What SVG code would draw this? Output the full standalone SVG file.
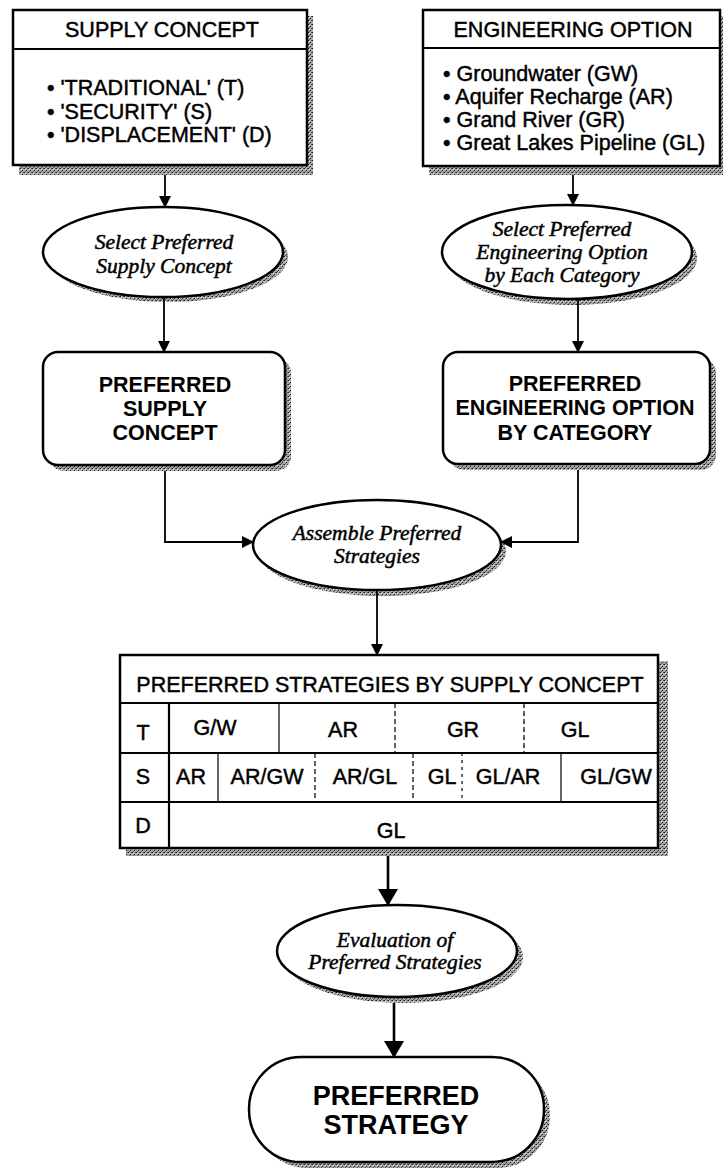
<svg xmlns="http://www.w3.org/2000/svg" width="723" height="1172" viewBox="0 0 723 1172">
<defs>
<pattern id="stip" width="4" height="4" patternUnits="userSpaceOnUse">
<rect width="4" height="4" fill="#a8a8a8"/>
<rect x="0" y="0" width="1" height="1" fill="#1a1a1a"/>
<rect x="2" y="2" width="1" height="1" fill="#1a1a1a"/>
<rect x="3" y="0" width="1" height="1" fill="#555"/>
<rect x="1" y="3" width="1" height="1" fill="#555"/>
<rect x="1" y="1" width="1" height="1" fill="#e0e0e0"/>
</pattern>
<marker id="ah" markerUnits="userSpaceOnUse" markerWidth="12" markerHeight="13" refX="11" refY="6" orient="auto">
<path d="M0,0 L12,6 L0,12 Z" fill="#000"/>
</marker>
<marker id="ahL" markerUnits="userSpaceOnUse" markerWidth="17" markerHeight="21" refX="16" refY="10" orient="auto">
<path d="M0,0 L17,10 L0,20 Z" fill="#000"/>
</marker>
</defs>
<style>
.box{fill:#fff;stroke:#000;stroke-width:2.5}
.shadow{fill:url(#stip);stroke:none}
.sans{font-family:"Liberation Sans",Arial,sans-serif;font-size:21.5px;fill:#000;stroke:#000;stroke-width:0.45}
.bold{font-family:"Liberation Sans",Arial,sans-serif;font-size:21.5px;font-weight:bold;fill:#000}
.ital{font-family:"Liberation Serif","Times New Roman",serif;font-style:italic;font-size:21.5px;fill:#000;stroke:#000;stroke-width:0.5}
.conn{fill:none;stroke:#000;stroke-width:1.8}
.connL{fill:none;stroke:#000;stroke-width:2.6}
.div{stroke:#000;stroke-width:1.8}
.dash{stroke:#000;stroke-width:1.2;stroke-dasharray:5 3}
.mid{text-anchor:middle}
</style>
<rect width="723" height="1172" fill="#fff"/>

<g id="supply-concept">
<rect class="shadow" x="19" y="16" width="294" height="159"/>
<rect class="box" x="13" y="10" width="294" height="155"/>
<line class="div" x1="13" y1="49" x2="307" y2="49"/>
<text class="sans mid" x="162" y="37">SUPPLY CONCEPT</text>
<text class="sans" x="47" y="95">• 'TRADITIONAL' (T)</text>
<text class="sans" x="47" y="118.5">• 'SECURITY' (S)</text>
<text class="sans" x="47" y="142">• 'DISPLACEMENT' (D)</text>
</g>

<g id="engineering-option">
<rect class="shadow" x="429" y="16" width="294" height="159"/>
<rect class="box" x="423" y="10" width="297" height="156"/>
<line class="div" x1="423" y1="48" x2="720" y2="48"/>
<text class="sans mid" x="573" y="37">ENGINEERING OPTION</text>
<text class="sans" x="443" y="81">• Groundwater (GW)</text>
<text class="sans" x="443" y="104">• Aquifer Recharge (AR)</text>
<text class="sans" x="443" y="127">• Grand River (GR)</text>
<text class="sans" x="443" y="150">• Great Lakes Pipeline (GL)</text>
</g>

<g id="select-supply">
<ellipse class="shadow" cx="168" cy="257" rx="120" ry="45"/>
<ellipse class="box" cx="163" cy="252" rx="120" ry="45"/>
<text class="ital mid" x="164" y="249">Select Preferred</text>
<text class="ital mid" x="164" y="273">Supply Concept</text>
</g>

<g id="select-engineering">
<ellipse class="shadow" cx="572" cy="258" rx="125" ry="47"/>
<ellipse class="box" cx="567" cy="252" rx="125" ry="47"/>
<text class="ital mid" x="562" y="236">Select Preferred</text>
<text class="ital mid" x="562" y="259">Engineering Option</text>
<text class="ital mid" x="562" y="282">by Each Category</text>
</g>

<g id="preferred-supply">
<rect class="shadow" x="49" y="358" width="242" height="113" rx="15"/>
<rect class="box" x="43" y="352" width="242" height="113" rx="15"/>
<text class="bold mid" x="165" y="392">PREFERRED</text>
<text class="bold mid" x="165" y="416">SUPPLY</text>
<text class="bold mid" x="165" y="440">CONCEPT</text>
</g>

<g id="preferred-engineering">
<rect class="shadow" x="449" y="358" width="267" height="112" rx="15"/>
<rect class="box" x="443" y="352" width="267" height="112" rx="15"/>
<text class="bold mid" x="575" y="391">PREFERRED</text>
<text class="bold mid" x="575" y="415">ENGINEERING OPTION</text>
<text class="bold mid" x="575" y="440">BY CATEGORY</text>
</g>

<g id="assemble">
<ellipse class="shadow" cx="382" cy="551" rx="124" ry="45"/>
<ellipse class="box" cx="377" cy="545" rx="124" ry="45"/>
<text class="ital mid" x="377" y="540">Assemble Preferred</text>
<text class="ital mid" x="377" y="563">Strategies</text>
</g>

<g id="strategies-table">
<rect class="shadow" x="126" y="661" width="542" height="195"/>
<rect class="box" x="120" y="655" width="538" height="193"/>
<line class="div" x1="120" y1="703" x2="658" y2="703"/>
<line class="div" x1="120" y1="753" x2="658" y2="753"/>
<line class="div" x1="120" y1="802" x2="658" y2="802"/>
<line class="div" x1="169" y1="703" x2="169" y2="848" style="stroke-width:2.2"/>
<line class="dash" x1="279" y1="703" x2="279" y2="753" style="stroke-dasharray:none"/>
<line class="dash" x1="395" y1="703" x2="395" y2="753"/>
<line class="dash" x1="524" y1="703" x2="524" y2="753"/>
<line class="dash" x1="218" y1="753" x2="218" y2="802" style="stroke-dasharray:none"/>
<line class="dash" x1="315" y1="753" x2="315" y2="802"/>
<line class="dash" x1="413" y1="753" x2="413" y2="802"/>
<line class="dash" x1="462" y1="753" x2="462" y2="802" style="stroke-dasharray:3 4"/>
<line class="dash" x1="561" y1="753" x2="561" y2="802" style="stroke-dasharray:none"/>
<text class="sans mid" x="390" y="692">PREFERRED STRATEGIES BY SUPPLY CONCEPT</text>
<text class="sans mid" x="143" y="740">T</text>
<text class="sans mid" x="215" y="735">G/W</text>
<text class="sans mid" x="343" y="737">AR</text>
<text class="sans mid" x="463" y="737">GR</text>
<text class="sans mid" x="575" y="737">GL</text>
<text class="sans mid" x="143" y="784">S</text>
<text class="sans mid" x="191" y="784">AR</text>
<text class="sans mid" x="267" y="784">AR/GW</text>
<text class="sans mid" x="365" y="784">AR/GL</text>
<text class="sans mid" x="442" y="784">GL</text>
<text class="sans mid" x="508" y="784">GL/AR</text>
<text class="sans mid" x="616" y="784">GL/GW</text>
<text class="sans mid" x="143" y="833">D</text>
<text class="sans mid" x="391" y="838">GL</text>
</g>

<g id="evaluation">
<ellipse class="shadow" cx="403" cy="957" rx="120" ry="46"/>
<ellipse class="box" cx="397" cy="951" rx="120" ry="46"/>
<text class="ital mid" x="395" y="947">Evaluation of</text>
<text class="ital mid" x="395" y="969">Preferred Strategies</text>
</g>

<g id="preferred-strategy">
<rect class="shadow" x="255" y="1063" width="295" height="105" rx="52"/>
<rect class="box" x="249" y="1057" width="295" height="105" rx="52"/>
<text class="bold mid" x="396" y="1105" style="font-size:27px">PREFERRED</text>
<text class="bold mid" x="396" y="1134" style="font-size:27px">STRATEGY</text>
</g>

<g id="connectors">
<line class="conn" x1="165" y1="175" x2="165" y2="207" marker-end="url(#ah)"/>
<line class="conn" x1="573" y1="175" x2="573" y2="205" marker-end="url(#ah)"/>
<line class="conn" x1="164" y1="297" x2="164" y2="352" marker-end="url(#ah)"/>
<line class="conn" x1="578" y1="299" x2="578" y2="352" marker-end="url(#ah)"/>
<polyline class="conn" points="165,471 165,542 253,542" marker-end="url(#ah)"/>
<polyline class="conn" points="578,470 578,542 501,542" marker-end="url(#ah)"/>
<line class="conn" x1="377" y1="590" x2="377" y2="655" marker-end="url(#ah)"/>
<line class="connL" x1="388" y1="856" x2="388" y2="905" marker-end="url(#ahL)"/>
<line class="connL" x1="394" y1="1003" x2="394" y2="1057" marker-end="url(#ahL)"/>
</g>
</svg>
